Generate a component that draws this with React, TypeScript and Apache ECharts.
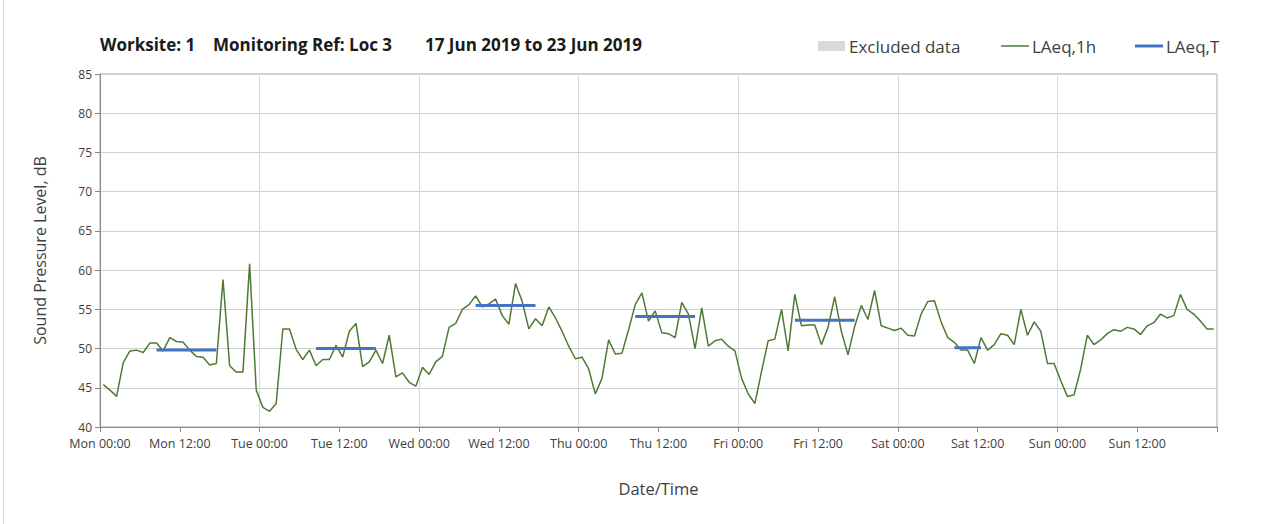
import React, { useEffect, useRef } from "react";
import * as echarts from "echarts";

// Hourly LAeq,1h values, one per hour from Mon 00:00 (plotted at mid-hour)
const laeq1h: number[] = [
  // Mon
  45.4, 44.7, 43.9, 48.2, 49.7, 49.8, 49.5, 50.7, 50.7, 49.7, 51.4, 50.9,
  50.8, 49.8, 49.0, 48.9, 47.9, 48.1, 58.8, 47.8, 47.0, 47.0, 60.8, 44.7,
  // Tue
  42.5, 42.0, 43.0, 52.5, 52.5, 49.9, 48.6, 49.8, 47.8, 48.6, 48.6, 50.4,
  48.9, 52.2, 53.2, 47.7, 48.3, 49.8, 48.1, 51.7, 46.4, 46.9, 45.7, 45.2,
  // Wed
  47.6, 46.7, 48.3, 49.0, 52.7, 53.2, 55.0, 55.6, 56.7, 55.3, 55.7, 56.3,
  54.2, 53.1, 58.3, 56.0, 52.5, 53.8, 52.9, 55.3, 53.9, 52.2, 50.3, 48.7,
  // Thu
  48.9, 47.4, 44.2, 46.2, 51.1, 49.3, 49.4, 52.4, 55.6, 57.1, 53.5, 54.8,
  52.0, 51.9, 51.4, 55.9, 54.4, 50.0, 55.2, 50.3, 51.0, 51.2, 50.3, 49.7,
  // Fri
  46.2, 44.2, 43.0, 47.1, 51.0, 51.2, 55.0, 49.7, 56.9, 52.9, 53.0, 53.0,
  50.5, 52.7, 56.6, 52.2, 49.2, 52.8, 55.5, 53.7, 57.4, 52.9, 52.6, 52.3,
  // Sat
  52.6, 51.7, 51.6, 54.4, 56.0, 56.1, 53.4, 51.4, 50.8, 49.8, 49.8, 48.1,
  51.4, 49.8, 50.5, 51.9, 51.7, 50.5, 55.0, 51.7, 53.4, 52.2, 48.1, 48.1,
  // Sun
  45.9, 43.9, 44.1, 47.4, 51.7, 50.5, 51.1, 51.9, 52.4, 52.2, 52.7, 52.5,
  51.8, 52.9, 53.3, 54.4, 53.9, 54.2, 56.9, 55.0, 54.4, 53.5, 52.5, 52.5,
];

// LAeq,T periods
const periodDay: number[] = [0, 1, 2, 3, 4, 5];
const periodStartHour: number[] = [8, 8, 8, 8, 8, 8];
const periodEndHour: number[] = [18, 18, 18, 18, 18, 13];
const laeqT: number[] = [49.8, 50.0, 55.5, 54.1, 53.6, 50.1];

const dayNames: string[] = ["Mon", "Tue", "Wed", "Thu", "Fri", "Sat", "Sun"];
const timeLabels: string[] = ["00:00", "12:00"];

const legendNames: string[] = ["Excluded data", "LAeq,1h", "LAeq,T"];
const titleParts: string[] = ["Worksite: 1", "Monitoring Ref: Loc 3", "17 Jun 2019 to 23 Jun 2019"];

const FONT = "'Open Sans', 'Noto Sans', sans-serif";
const GREEN = "#4e7a34";
const BLUE = "#4472c4";
const GREY = "#d9d9d9";

export default function App() {
  const ref = useRef<HTMLDivElement>(null);

  useEffect(() => {
    document.body.style.margin = "0";
    if (!ref.current) return;
    const chart = echarts.init(ref.current, undefined, { renderer: "svg" });

    const lineData = laeq1h.map((v, i) => [i + 0.5, v]);
    const tData: any[] = [];
    periodDay.forEach((d, i) => {
      tData.push([d * 24 + periodStartHour[i] + 0.5, laeqT[i]]);
      tData.push([d * 24 + periodEndHour[i] - 0.5, laeqT[i]]);
      tData.push([d * 24 + periodEndHour[i], null]);
    });

    const titleStyle = {
      fontFamily: FONT,
      fontSize: 17,
      fontWeight: "bold" as const,
      color: "#1a1a1a",
    };
    const titleLeft = [95, 208, 420];

    const legendText = {
      fontFamily: FONT,
      fontSize: 17,
      fill: "#404040",
      verticalAlign: "middle" as const,
      align: "left" as const,
    };
    const LY = 46;

    chart.setOption({
      animation: false,
      textStyle: { fontFamily: FONT },
      title: titleParts.map((t, i) => ({
        text: t,
        left: titleLeft[i],
        top: 31,
        textStyle: titleStyle,
      })),
      graphic: [
        {
          type: "line",
          shape: { x1: 3.5, y1: 0, x2: 3.5, y2: 524 },
          style: { stroke: "#d9d9d9", lineWidth: 1 },
        },
        {
          type: "rect",
          shape: { x: 818, y: LY - 5, width: 27, height: 10 },
          style: { fill: GREY },
        },
        { type: "text", x: 849, y: LY, style: { ...legendText, text: legendNames[0] } },
        {
          type: "line",
          shape: { x1: 1001, y1: LY, x2: 1029, y2: LY },
          style: { stroke: GREEN, lineWidth: 1.5 },
        },
        { type: "text", x: 1032, y: LY, style: { ...legendText, text: legendNames[1] } },
        {
          type: "line",
          shape: { x1: 1135, y1: LY, x2: 1163, y2: LY },
          style: { stroke: BLUE, lineWidth: 3 },
        },
        { type: "text", x: 1166, y: LY, style: { ...legendText, text: legendNames[2] } },
      ],
      grid: {
        left: 100,
        right: 59,
        top: 74,
        bottom: 97,
        show: true,
        borderColor: "#a6a6a6",
        borderWidth: 1,
      },
      xAxis: [
        {
          type: "value",
          min: 0,
          max: 168,
          interval: 12,
          name: "Date/Time",
          nameLocation: "middle",
          nameGap: 53,
          nameTextStyle: { fontFamily: FONT, fontSize: 16.5, color: "#404040" },
          axisLine: { show: true, lineStyle: { color: "#898989", width: 1 } },
          axisTick: { show: true, length: 5, lineStyle: { color: "#898989" } },
          axisLabel: {
            color: "#404040",
            fontSize: 12.5,
            margin: 10,
            formatter: (v: number) => {
              if (v >= 168) return "";
              const d = Math.floor(v / 24);
              const t = (v % 24) / 12;
              return dayNames[d] + " " + timeLabels[t];
            },
          },
          splitLine: { show: false },
        },
        {
          type: "value",
          min: 0,
          max: 168,
          interval: 24,
          position: "top",
          axisLine: { show: false },
          axisTick: { show: false },
          axisLabel: { show: false },
          splitLine: { show: true, lineStyle: { color: "#d9d9d9", width: 1 } },
        },
      ],
      yAxis: {
        type: "value",
        min: 40,
        max: 85,
        interval: 5,
        name: "Sound Pressure Level, dB",
        nameLocation: "middle",
        nameGap: 52,
        nameTextStyle: { fontFamily: FONT, fontSize: 16, color: "#404040" },
        axisLine: { show: true, lineStyle: { color: "#898989", width: 1 } },
        axisTick: { show: true, length: 5, lineStyle: { color: "#898989" } },
        axisLabel: { color: "#404040", fontSize: 12, margin: 8 },
        splitLine: { show: true, lineStyle: { color: "#d0d0d0", width: 1 } },
      },
      series: [
        {
          name: "LAeq,1h",
          type: "line",
          data: lineData,
          symbol: "none",
          showSymbol: false,
          lineStyle: { color: GREEN, width: 1.5 },
          itemStyle: { color: GREEN },
          z: 2,
        },
        {
          name: "LAeq,T",
          type: "line",
          data: tData,
          symbol: "none",
          showSymbol: false,
          connectNulls: false,
          lineStyle: { color: BLUE, width: 3 },
          itemStyle: { color: BLUE },
          z: 3,
        },
      ],
    });

    return () => chart.dispose();
  }, []);

  return <div ref={ref} style={{ width: 1276, height: 524 }} />;
}
